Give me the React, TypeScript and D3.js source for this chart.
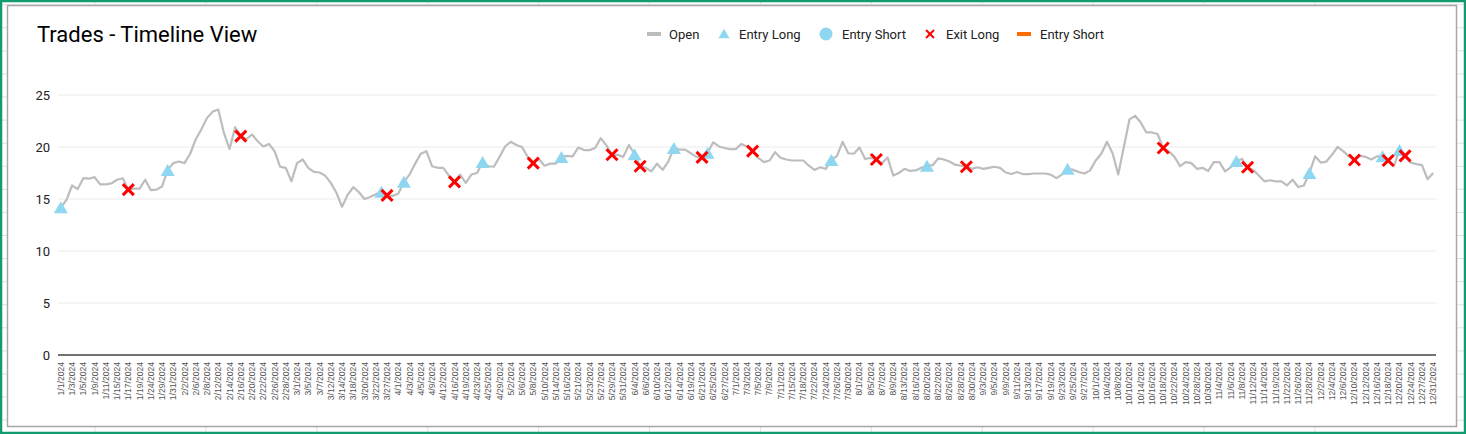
import React from "react";
import * as d3 from "d3";

const dates: string[] = [
  "1/1/2024","1/2/2024","1/3/2024","1/4/2024","1/5/2024","1/8/2024","1/9/2024","1/10/2024","1/11/2024","1/12/2024",
  "1/15/2024","1/16/2024","1/17/2024","1/18/2024","1/19/2024","1/22/2024","1/24/2024","1/25/2024","1/29/2024","1/30/2024",
  "1/31/2024","2/1/2024","2/2/2024","2/5/2024","2/6/2024","2/7/2024","2/8/2024","2/9/2024","2/12/2024","2/13/2024",
  "2/14/2024","2/15/2024","2/16/2024","2/19/2024","2/20/2024","2/21/2024","2/22/2024","2/23/2024","2/26/2024","2/27/2024",
  "2/28/2024","2/29/2024","3/1/2024","3/4/2024","3/5/2024","3/6/2024","3/7/2024","3/11/2024","3/12/2024","3/13/2024",
  "3/14/2024","3/15/2024","3/18/2024","3/19/2024","3/20/2024","3/21/2024","3/22/2024","3/25/2024","3/27/2024","3/28/2024",
  "4/1/2024","4/2/2024","4/3/2024","4/4/2024","4/5/2024","4/8/2024","4/9/2024","4/11/2024","4/12/2024","4/15/2024",
  "4/16/2024","4/18/2024","4/19/2024","4/22/2024","4/23/2024","4/24/2024","4/25/2024","4/26/2024","4/29/2024","5/1/2024",
  "5/2/2024","5/3/2024","5/6/2024","5/7/2024","5/8/2024","5/9/2024","5/10/2024","5/13/2024","5/14/2024","5/15/2024",
  "5/16/2024","5/20/2024","5/21/2024","5/22/2024","5/23/2024","5/24/2024","5/27/2024","5/28/2024","5/29/2024","5/30/2024",
  "5/31/2024","6/3/2024","6/4/2024","6/5/2024","6/6/2024","6/7/2024","6/10/2024","6/11/2024","6/12/2024","6/13/2024",
  "6/14/2024","6/17/2024","6/19/2024","6/20/2024","6/21/2024","6/24/2024","6/25/2024","6/26/2024","6/27/2024","6/28/2024",
  "7/1/2024","7/2/2024","7/3/2024","7/4/2024","7/5/2024","7/8/2024","7/9/2024","7/10/2024","7/11/2024","7/12/2024",
  "7/15/2024","7/17/2024","7/18/2024","7/19/2024","7/22/2024","7/23/2024","7/24/2024","7/25/2024","7/26/2024","7/29/2024",
  "7/30/2024","7/31/2024","8/1/2024","8/2/2024","8/5/2024","8/6/2024","8/7/2024","8/8/2024","8/9/2024","8/12/2024",
  "8/13/2024","8/15/2024","8/16/2024","8/19/2024","8/20/2024","8/21/2024","8/22/2024","8/23/2024","8/26/2024","8/27/2024",
  "8/28/2024","8/29/2024","8/30/2024","9/2/2024","9/3/2024","9/4/2024","9/5/2024","9/6/2024","9/9/2024","9/10/2024",
  "9/11/2024","9/12/2024","9/13/2024","9/16/2024","9/17/2024","9/18/2024","9/19/2024","9/20/2024","9/23/2024","9/24/2024",
  "9/25/2024","9/26/2024","9/27/2024","9/30/2024","10/1/2024","10/2/2024","10/4/2024","10/7/2024","10/8/2024","10/9/2024",
  "10/10/2024","10/11/2024","10/14/2024","10/15/2024","10/16/2024","10/17/2024","10/18/2024","10/21/2024","10/22/2024","10/23/2024",
  "10/24/2024","10/25/2024","10/28/2024","10/29/2024","10/30/2024","10/31/2024","11/4/2024","11/5/2024","11/6/2024","11/7/2024",
  "11/8/2024","11/11/2024","11/12/2024","11/13/2024","11/14/2024","11/18/2024","11/19/2024","11/21/2024","11/22/2024","11/25/2024",
  "11/26/2024","11/27/2024","11/28/2024","11/29/2024","12/2/2024","12/3/2024","12/4/2024","12/5/2024","12/6/2024","12/9/2024",
  "12/10/2024","12/11/2024","12/12/2024","12/13/2024","12/16/2024","12/17/2024","12/18/2024","12/19/2024","12/20/2024","12/23/2024",
  "12/24/2024","12/26/2024","12/27/2024","12/30/2024","12/31/2024",
];

const openValues: number[] = [
  14.2, 14.9, 16.3, 15.95, 17.0, 16.95, 17.1, 16.4, 16.4, 16.5,
  16.85, 17.0, 15.9, 16.0, 16.0, 16.85, 15.85, 15.9, 16.2, 17.8,
  18.45, 18.6, 18.45, 19.35, 20.75, 21.7, 22.8, 23.4, 23.6, 21.35,
  19.8, 21.9, 21.05, 20.75, 21.2, 20.55, 20.05, 20.3, 19.6, 18.1,
  18.0, 16.7, 18.45, 18.8, 18.0, 17.6, 17.55, 17.25, 16.55, 15.6,
  14.25, 15.4, 16.15, 15.65, 15.0, 15.2, 15.45, 15.7, 15.35, 15.3,
  15.5, 16.65, 17.35, 18.4, 19.35, 19.6, 18.15, 18.0, 18.0, 17.25,
  16.65, 17.35, 16.55, 17.35, 17.5, 18.55, 18.15, 18.1, 19.05, 20.05,
  20.5, 20.2, 20.0, 19.05, 18.45, 18.85, 18.2, 18.4, 18.4, 19.05,
  19.15, 19.1, 19.95, 19.7, 19.7, 19.9, 20.85, 20.15, 19.25, 19.25,
  19.05, 20.2, 19.3, 18.15, 18.0, 17.65, 18.4, 17.8, 18.6, 19.9,
  19.75, 19.75, 19.4, 19.05, 19.0, 19.45, 20.45, 20.05, 19.9, 19.8,
  19.8, 20.3, 20.05, 19.6, 18.95, 18.55, 18.7, 19.5, 18.95, 18.8,
  18.7, 18.7, 18.7, 18.2, 17.8, 18.05, 17.9, 18.75, 19.15, 20.5,
  19.4, 19.35, 19.95, 18.85, 18.95, 18.8, 18.45, 19.0, 17.25, 17.5,
  17.9, 17.7, 17.75, 18.0, 18.2, 18.25, 18.9, 18.8, 18.6, 18.3,
  18.2, 18.1, 17.9, 18.05, 17.9, 18.0, 18.1, 18.0, 17.55, 17.4,
  17.6, 17.4, 17.4, 17.45, 17.45, 17.45, 17.35, 17.0, 17.35, 17.9,
  17.8, 17.6, 17.45, 17.75, 18.7, 19.35, 20.5, 19.4, 17.35, 20.0,
  22.65, 23.0, 22.35, 21.4, 21.4, 21.25, 19.9, 19.6, 19.05, 18.15,
  18.55, 18.45, 17.9, 18.0, 17.7, 18.55, 18.55, 17.65, 18.05, 18.65,
  18.85, 18.05, 17.8, 17.25, 16.7, 16.8, 16.7, 16.7, 16.3, 16.85,
  16.15, 16.3, 17.5, 19.1, 18.5, 18.6, 19.25, 20.0, 19.6, 19.1,
  18.75, 19.15, 19.05, 18.8, 19.1, 19.1, 18.7, 18.15, 19.7, 19.15,
  18.5, 18.35, 18.25, 16.9, 17.5,
];

const entryLongDates: string[] = [
  "1/1/2024","1/30/2024","3/25/2024","4/2/2024","4/24/2024","5/15/2024","6/4/2024","6/13/2024",
  "6/24/2024","7/25/2024","8/20/2024","9/24/2024","11/7/2024","11/28/2024","12/17/2024","12/20/2024",
];
const entryLongValues: number[] = [
  14.2, 17.8, 15.7, 16.65, 18.55, 19.05, 19.3, 19.9,
  19.45, 18.75, 18.2, 17.9, 18.65, 17.5, 19.1, 19.7,
];

const exitLongDates: string[] = [
  "1/17/2024","2/16/2024","3/27/2024","4/16/2024","5/8/2024","5/29/2024","6/5/2024","6/21/2024",
  "7/4/2024","8/6/2024","8/29/2024","10/18/2024","11/11/2024","12/10/2024","12/18/2024","12/23/2024",
];
const exitLongValues: number[] = [
  15.9, 21.05, 15.35, 16.65, 18.45, 19.25, 18.15, 19.0,
  19.6, 18.8, 18.1, 19.9, 18.05, 18.75, 18.7, 19.15,
];

const yTicks: number[] = [0, 5, 10, 15, 20, 25];
const legendLabels: string[] = ["Open", "Entry Long", "Entry Short", "Exit Long", "Entry Short"];

const W = 1466;
const H = 434;
const PLOT = { left: 58, right: 1436, top: 95, bottom: 355 };

const LINE_COLOR = "#bdbdbd";
const BLUE = "#8fd7f0";
const RED = "#ff0000";
const ORANGE = "#ff6d01";

function Triangle({ x, y, s = 1 }: { x: number; y: number; s?: number }) {
  const w = 7 * s;
  const h = 6 * s;
  return <path d={`M${x},${y - h}L${x + w},${y + h}L${x - w},${y + h}Z`} fill={BLUE} />;
}

function Cross({ x, y, r = 5.5, sw = 3 }: { x: number; y: number; r?: number; sw?: number }) {
  return (
    <g stroke={RED} strokeWidth={sw}>
      <line x1={x - r} y1={y - r} x2={x + r} y2={y + r} />
      <line x1={x - r} y1={y + r} x2={x + r} y2={y - r} />
    </g>
  );
}

export default function App() {
  const x = d3.scaleBand<string>().domain(dates).range([PLOT.left, PLOT.right]);
  const cx = (d: string) => (x(d) as number) + x.bandwidth() / 2;
  const y = d3.scaleLinear().domain([0, 25]).range([PLOT.bottom, PLOT.top]);

  const line = d3
    .line<number>()
    .x((_, i) => cx(dates[i]))
    .y((v) => y(v));

  const tickDates = dates.filter((_, i) => i % 2 === 0);

  // spreadsheet grid behind the chart
  const colXs = d3.range(12).map((i) => 95 + i * 110.9);
  const rowYs = d3.range(19).map((i) => 4.7 + i * 23.08);

  const legendIconX = [654, 724, 826, 930, 1024];
  const legendTextX = [669, 739, 842, 946, 1040];
  const legendY = 34;

  return (
    <svg
      width={W}
      height={H}
      style={{ position: "absolute", left: 0, top: 0, display: "block" }}
      fontFamily="Roboto, Arial, sans-serif"
    >
      <rect x={0} y={0} width={W} height={H} fill="#ffffff" />
      <g stroke="#e0e0e0" strokeWidth={1}>
        {colXs.map((cxv, i) => (
          <line key={"c" + i} x1={cxv} x2={cxv} y1={0} y2={H} />
        ))}
        {rowYs.map((ry, i) => (
          <line key={"r" + i} x1={0} x2={W} y1={ry} y2={ry} />
        ))}
      </g>
      <rect x={7.5} y={5.5} width={1449} height={421} fill="#ffffff" stroke="#a6a6a6" strokeWidth={1.5} />

      <text x={37} y={42} fontSize={22} fill="#000" fontFamily="Roboto, Arial, sans-serif">
        Trades - Timeline View
      </text>

      {/* legend */}
      <g fontSize={13} fill="#222">
        <rect x={legendIconX[0] - 7} y={legendY - 2} width={14} height={4} fill={LINE_COLOR} />
        <Triangle x={legendIconX[1]} y={legendY - 0.5} s={0.8} />
        <circle cx={legendIconX[2]} cy={legendY} r={6.5} fill={BLUE} />
        <Cross x={legendIconX[3]} y={legendY} r={4} sw={2} />
        <rect x={legendIconX[4] - 7} y={legendY - 2} width={14} height={4} fill={ORANGE} />
        {legendLabels.map((l, i) => (
          <text key={i} x={legendTextX[i]} y={legendY + 4.5}>
            {l}
          </text>
        ))}
      </g>

      {/* gridlines */}
      <g>
        {yTicks.map((t) => (
          <g key={t}>
            {t !== 0 && (
              <line x1={PLOT.left} x2={PLOT.right} y1={y(t)} y2={y(t)} stroke="#ebebeb" strokeWidth={1} />
            )}
            <text x={50} y={y(t) + 4.5} textAnchor="end" fontSize={13} fill="#222">
              {t}
            </text>
          </g>
        ))}
      </g>

      {/* x labels */}
      <g fontSize={8.6} fill="#555" fontFamily="Arial, 'Liberation Sans', sans-serif">
        {tickDates.map((d) => (
          <text
            key={d}
            transform={`translate(${cx(d) + 3},${PLOT.bottom + 7}) rotate(-90)`}
            textAnchor="end"
          >
            {d}
          </text>
        ))}
      </g>

      {/* baseline */}
      <line x1={PLOT.left} x2={PLOT.right} y1={y(0)} y2={y(0)} stroke="#444" strokeWidth={1.5} />

      {/* open line */}
      <path d={line(openValues) || ""} fill="none" stroke={LINE_COLOR} strokeWidth={2.2} strokeLinejoin="round" />

      {/* entry long */}
      {entryLongDates.map((d, i) => (
        <Triangle key={"el" + i} x={cx(d)} y={y(entryLongValues[i])} />
      ))}

      {/* exit long */}
      {exitLongDates.map((d, i) => (
        <Cross key={"xl" + i} x={cx(d)} y={y(exitLongValues[i])} />
      ))}

      {/* outer green frame */}
      <rect x={1} y={1} width={W - 2} height={H - 2} fill="none" stroke="#139a70" strokeWidth={2.5} />
    </svg>
  );
}
